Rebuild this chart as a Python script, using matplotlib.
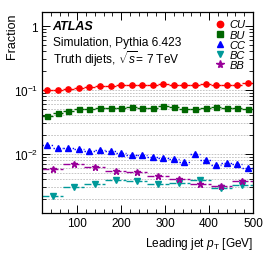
import matplotlib
matplotlib.use("Agg")
import matplotlib.pyplot as plt
from matplotlib.lines import Line2D
from matplotlib.ticker import LogLocator, MultipleLocator, NullFormatter
import numpy as np

plt.rcParams['font.family'] = ['Liberation Sans', 'DejaVu Sans']
plt.rcParams['mathtext.fontset'] = 'custom'
plt.rcParams['mathtext.rm'] = 'Liberation Sans'
plt.rcParams['mathtext.it'] = 'Liberation Sans:italic'

# binning: 24 GeV bins for CU/BU/CC, 48 GeV bins for BC/BB
fine_edges = np.linspace(20, 500, 21)
coarse_edges = np.linspace(20, 500, 11)

cu = [0.101, 0.099, 0.104, 0.107, 0.111, 0.114, 0.117, 0.118, 0.121, 0.121,
      0.121, 0.123, 0.121, 0.121, 0.121, 0.123, 0.121, 0.121, 0.121, 0.127]
bu = [0.0397, 0.0432, 0.0465, 0.0499, 0.0505, 0.0518, 0.0523, 0.0529, 0.0537, 0.0529,
      0.0523, 0.0556, 0.0542, 0.0511, 0.0511, 0.0523, 0.0537, 0.0523, 0.0518, 0.0505]
cc = [0.0137, 0.0124, 0.0124, 0.0121, 0.0111, 0.0117, 0.0111, 0.0104, 0.00976, 0.00955,
      0.00898, 0.00866, 0.00826, 0.0075, 0.0101, 0.00797, 0.00665, 0.00731, 0.0069, 0.00611]
bc = [0.00218, 0.00305, 0.00344, 0.00388, 0.00374, 0.00344, 0.00356, 0.00388, 0.00294, 0.00331]
bb = [0.00589, 0.00705, 0.00626, 0.00537, 0.00523, 0.00449, 0.00411, 0.00344, 0.00313, 0.00374]

series = [
    ("CU", cu, fine_edges, '#ff0000', 'o', 3.8, 'solid'),
    ("BU", bu, fine_edges, '#006600', 's', 3.6, 'solid'),
    ("CC", cc, fine_edges, '#0000ff', '^', 4.2, (0, (1, 1.2))),
    ("BC", bc, coarse_edges, '#009999', 'v', 4.2, (0, (5, 1.5))),
    ("BB", bb, coarse_edges, '#990099', '*', 5.0, (0, (5, 1.5))),
]

fig = plt.figure(figsize=(2.66, 2.55), dpi=100)
ax = fig.add_axes([0.158, 0.161, 0.793, 0.787])
ax.set_yscale('log')
ax.set_xlim(20, 500)
ax.set_ylim(0.0012, 1.64)

# dotted grid lines at the log minor positions (0.002 - 0.1)
grid_vals = [m * 10.0 ** e for e in (-3, -2) for m in range(2, 10)] + [0.01, 0.1]
for g in grid_vals:
    if g >= 0.002:
        ax.axhline(g, color='#bbbbbb', lw=0.6, ls=(0, (2, 1.5)), zorder=0)

handles = []
for name, vals, edges, col, mk, ms, ls in series:
    centers = 0.5 * (edges[:-1] + edges[1:])
    ax.hlines(vals, edges[:-1], edges[1:], colors=col, linestyles=ls, lw=1.0, zorder=2)
    ax.plot(centers, vals, ls='none', marker=mk, ms=ms, color=col, mec=col, zorder=3)
    handles.append(Line2D([], [], ls='none', marker=mk, ms=ms + 0.8, color=col, mec=col))

leg = ax.legend(handles, [s[0] for s in series], loc='upper right', frameon=False,
                fontsize=8, handletextpad=0.4, labelspacing=0.02, handlelength=1.0,
                borderaxespad=0.25, bbox_to_anchor=(1.0, 1.0))
for t in leg.get_texts():
    t.set_fontstyle('italic')

ax.xaxis.set_major_locator(MultipleLocator(100))
ax.xaxis.set_minor_locator(MultipleLocator(20))
ax.yaxis.set_minor_locator(LogLocator(base=10, subs=np.arange(2, 10), numticks=20))
ax.yaxis.set_minor_formatter(NullFormatter())
ax.set_yticks([0.01, 0.1, 1])
ax.set_yticklabels([r'$10^{-2}$', r'$10^{-1}$', '1'])
ax.tick_params(which='both', direction='in', top=True, right=True, labelsize=8.5, pad=3)
ax.tick_params(which='major', length=6, width=0.7)
ax.tick_params(which='minor', length=3, width=0.6)
for sp in ax.spines.values():
    sp.set_linewidth(0.9)

ax.text(0.05, 0.93, 'ATLAS', transform=ax.transAxes, fontsize=9,
        fontweight='bold', fontstyle='italic', va='center')
ax.text(0.05, 0.85, 'Simulation, Pythia 6.423', transform=ax.transAxes,
        fontsize=8.6, va='center')
ax.text(0.05, 0.77, r'Truth dijets, $\sqrt{s}$= 7 TeV', transform=ax.transAxes,
        fontsize=8.6, va='center')

ax.set_xlabel(r'Leading jet $p_{\rm T}$ [GeV]', fontsize=8.6, loc='right', labelpad=4)
ax.set_ylabel('Fraction', fontsize=9, loc='top')
ax.yaxis.set_label_coords(-0.115, 1.0)

fig.savefig('out.png', dpi=100)
